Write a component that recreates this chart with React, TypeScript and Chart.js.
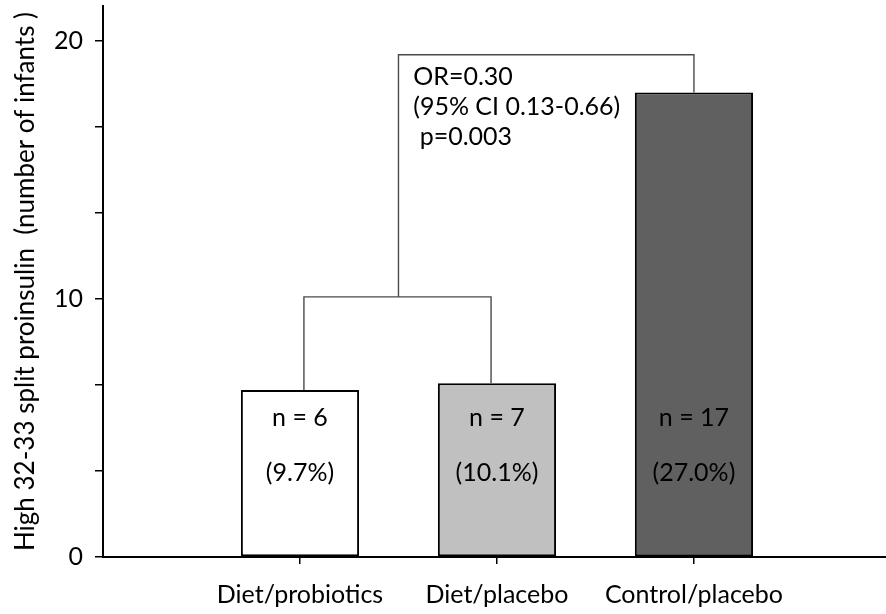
import React, { useEffect, useRef } from "react";
import { Chart, registerables } from "chart.js";

Chart.register(...registerables);

const categories = ["Diet/probiotics", "Diet/placebo", "Control/placebo"];
const categoryPositions = [1, 2, 3];
const barValues = [6.47, 6.73, 18.0];
const countLabels = ["n = 6", "n = 7", "n = 17"];
const percentLabels = ["(9.7%)", "(10.1%)", "(27.0%)"];
const barColors = ["#ffffff", "#c0c0c0", "#606060"];
const yTickValues = [0, 3.333, 6.667, 10, 13.333, 16.667, 20];
const yLabelValues = [0, 10, 20];
const yTitle = "High 32-33 split proinsulin  (number of infants )";
const annotationLines = ["OR=0.30", "(95% CI 0.13-0.66)", " p=0.003"];
const annotationY = [18.6, 17.44, 16.28];
const annotationX = 1.575;
const countLabelY = 5.39;
const percentLabelY = 3.26;
// bracket geometry in data units
const lowerBracket = { left: 1.02, right: 1.97, top: 10.08 };
const upperBracket = { left: 1.5, right: 3.0, top: 19.46 };

const FONT = "Lato, 'Open Sans', sans-serif";

const overlayPlugin = {
  id: "overlay",
  afterDatasetsDraw(chart: any) {
    const { ctx } = chart;
    const xs = chart.scales.x;
    const ys = chart.scales.y;
    const px = (v: number) => xs.getPixelForValue(v);
    const py = (v: number) => ys.getPixelForValue(v);
    ctx.save();
    // brackets
    ctx.strokeStyle = "#4a4a4a";
    ctx.lineWidth = 1.4;
    ctx.beginPath();
    ctx.moveTo(px(lowerBracket.left), py(barValues[0]));
    ctx.lineTo(px(lowerBracket.left), py(lowerBracket.top));
    ctx.lineTo(px(lowerBracket.right), py(lowerBracket.top));
    ctx.lineTo(px(lowerBracket.right), py(barValues[1]));
    ctx.moveTo(px(upperBracket.left), py(lowerBracket.top));
    ctx.lineTo(px(upperBracket.left), py(upperBracket.top));
    ctx.lineTo(px(upperBracket.right), py(upperBracket.top));
    ctx.lineTo(px(upperBracket.right), py(barValues[2]));
    ctx.stroke();

    // annotation text
    ctx.fillStyle = "#000000";
    ctx.font = `25px ${FONT}`;
    ctx.textAlign = "left";
    ctx.textBaseline = "middle";
    annotationLines.forEach((t, i) => {
      ctx.fillText(t, px(annotationX), py(annotationY[i]));
    });

    // in-bar labels
    ctx.textAlign = "center";
    const meta = chart.getDatasetMeta(0);
    meta.data.forEach((bar: any, i: number) => {
      ctx.fillText(countLabels[i], bar.x, py(countLabelY));
      ctx.fillText(percentLabels[i], bar.x, py(percentLabelY));
    });
    ctx.restore();
  },
};

export default function App() {
  const ref = useRef<HTMLCanvasElement | null>(null);

  useEffect(() => {
    document.body.style.margin = "0";
    if (!ref.current) return;
    const chart = new Chart(ref.current, {
      type: "bar",
      data: {
        datasets: [
          {
            data: categoryPositions.map((x, i) => ({ x, y: barValues[i] })),
            backgroundColor: barColors,
            borderColor: "#000000",
            borderWidth: 2,
            borderSkipped: false,
            barPercentage: 0.6,
            categoryPercentage: 1,
          },
        ],
      },
      options: {
        responsive: false,
        animation: false,
        devicePixelRatio: 1,
        layout: { padding: { top: 6, left: 0, right: 0, bottom: 0 } },
        plugins: {
          legend: { display: false },
          tooltip: { enabled: false },
        },
        scales: {
          x: {
            type: "linear",
            offset: false,
            min: 0,
            max: 3.975,
            afterBuildTicks: (scale: any) => {
              scale.ticks = categoryPositions.map((v) => ({ value: v }));
            },
            afterFit: (scale: any) => {
              scale.height = 57;
              scale.paddingLeft = 0;
              scale.paddingRight = 0;
            },
            ticks: {
              autoSkip: false,
              maxRotation: 0,
              padding: 16,
              color: "#000000",
              font: { family: FONT, size: 25 },
              callback: (v: any) => {
                const idx = categoryPositions.indexOf(Number(v));
                return idx >= 0 ? categories[idx] : "";
              },
            },
            grid: {
              display: true,
              offset: false,
              drawOnChartArea: false,
              drawTicks: true,
              tickLength: 7,
              color: "#000000",
              lineWidth: 1.5,
            },
            border: { display: true, color: "#000000", width: 2 },
          },
          y: {
            type: "linear",
            min: 0,
            max: 21.35,
            afterBuildTicks: (scale: any) => {
              scale.ticks = yTickValues.map((v) => ({ value: v }));
            },
            afterFit: (scale: any) => {
              scale.width = 103;
              scale.paddingTop = 0;
              scale.paddingBottom = 0;
            },
            ticks: {
              padding: 12,
              color: "#000000",
              font: { family: FONT, size: 25 },
              callback: (v: any) => (yLabelValues.includes(Number(v)) ? String(v) : ""),
            },
            grid: {
              display: true,
              drawOnChartArea: false,
              drawTicks: true,
              tickLength: 8,
              color: "#000000",
              lineWidth: 1.5,
            },
            border: { display: true, color: "#000000", width: 2 },
            title: {
              display: true,
              text: yTitle,
              color: "#000000",
              font: { family: FONT, size: 26 },
              padding: { top: 10, bottom: 0 },
            },
          },
        },
      },
      plugins: [overlayPlugin],
    });
    return () => chart.destroy();
  }, []);

  return (
    <div style={{ width: 886, height: 614 }}>
      <canvas ref={ref} width={886} height={614} />
    </div>
  );
}
